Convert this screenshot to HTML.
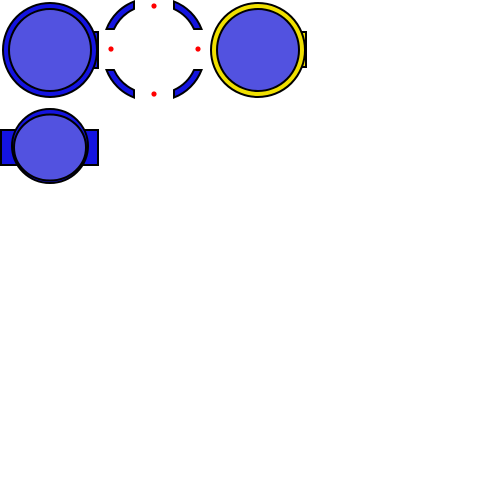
<!DOCTYPE html>
<html><head><meta charset="utf-8"><style>html,body{margin:0;padding:0;background:#fff}svg{display:block}</style></head>
<body>
<svg width="500" height="500" viewBox="0 0 500 500">
  <g stroke="#000" stroke-width="2">
    <rect x="88" y="32" width="10" height="36" fill="#1414e0"/>
    <circle cx="50" cy="50" r="47" fill="#1414e0"/>
    <circle cx="50" cy="50" r="41" fill="#5252e0"/>
  </g>
  <g stroke="#000" stroke-width="2" fill="#1414e0">
    <path d="M134,1.5 A48,48 0 0 0 106.5,29 L114,29 A41,41 0 0 1 134,9 Z"/>
    <path d="M174,1.5 A48,48 0 0 1 201.5,29 L194,29 A41,41 0 0 0 174,9 Z"/>
    <path d="M134,97.5 A48,48 0 0 1 106.5,70 L114,70 A41,41 0 0 0 134,90 Z"/>
    <path d="M174,97.5 A48,48 0 0 0 201.5,70 L194,70 A41,41 0 0 1 174,90 Z"/>
  </g>
  <g fill="#ff0000">
    <circle cx="154" cy="6" r="2.6"/>
    <circle cx="111" cy="49" r="2.6"/>
    <circle cx="198" cy="49" r="2.6"/>
    <circle cx="154" cy="94" r="2.6"/>
  </g>
  <g stroke="#000" stroke-width="2">
    <rect x="296" y="32" width="10" height="35" fill="#f0e000"/>
    <circle cx="258" cy="50" r="47" fill="#f0e000"/>
    <circle cx="258" cy="50" r="41" fill="#5252e0"/>
  </g>
  <g stroke="#000" stroke-width="2">
    <rect x="1" y="130" width="97" height="35" fill="#1414e0"/>
    <ellipse cx="50" cy="146" rx="38" ry="37" fill="#1414e0"/>
    <ellipse cx="50" cy="147.5" rx="36" ry="33" fill="#5252e0"/>
  </g>
</svg>
</body></html>
